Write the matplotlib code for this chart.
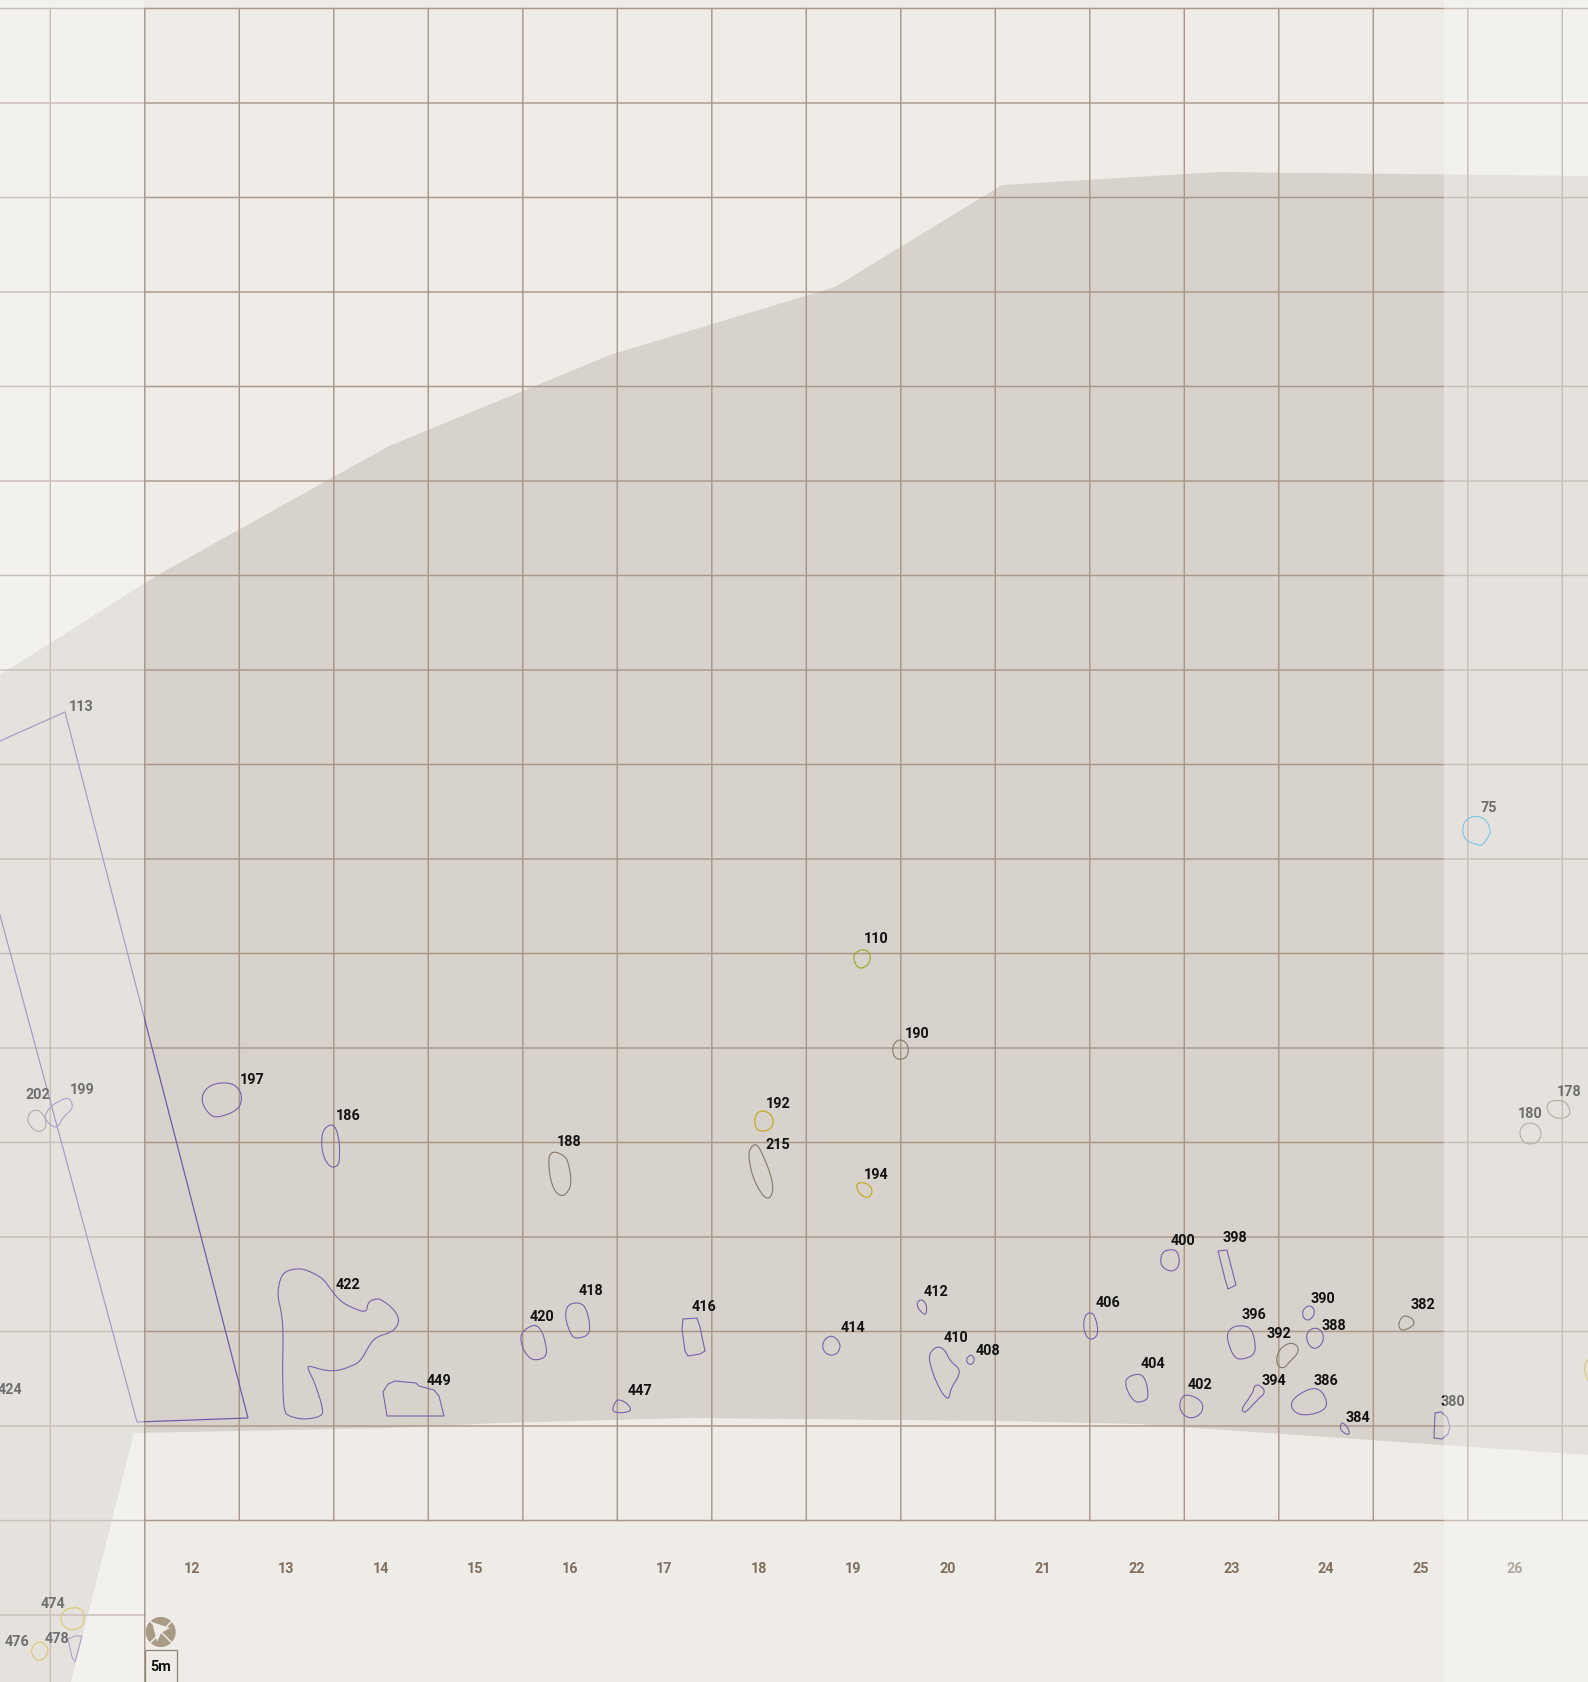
import numpy as np
import matplotlib.pyplot as plt
from matplotlib.patches import Polygon, Rectangle, Circle

plt.rcParams['font.family'] = ['Roboto', 'DejaVu Sans']

# map coordinates are measured in reference pixels
W, H = 1588, 1683

grid_x = [50.3 + 94.5 * k for k in range(17)]
grid_y = [9.5 + 94.5 * k for k in range(17)]
columns = list(range(12, 27))

excavation = [(0, 676), (156, 577), (389, 447), (610, 356), (835, 288), (1002, 186),
              (1219, 173), (1588, 177), (1588, 1456), (1138, 1425), (1000, 1422),
              (687, 1419), (500, 1424), (389, 1429), (134, 1434), (71, 1683), (0, 1683)]

trench_113 = [(0, 916), (137, 1423), (248, 1419), (65, 713), (0, 742)]

purple = {
    197: [(210, 1087), (223, 1084), (234, 1086), (240, 1093), (241, 1100), (239, 1108), (230, 1114), (216, 1118), (210, 1115), (203, 1105), (203, 1095)],
    186: [(330, 1126), (335, 1128), (338, 1138), (339, 1150), (339, 1165), (333, 1168), (328, 1165), (324, 1157), (322, 1145), (323, 1132)],
    422: [(298, 1270), (308, 1272), (323, 1280), (330, 1290), (340, 1303), (353, 1310), (366, 1314), (367, 1305), (372, 1301), (380, 1300), (395, 1312), (399, 1323), (392, 1333), (375, 1338), (368, 1347), (360, 1362), (350, 1367), (338, 1371), (325, 1371), (309, 1366), (308, 1369), (315, 1383), (324, 1412), (320, 1417), (305, 1420), (290, 1417), (284, 1412), (283, 1373), (284, 1333), (282, 1313), (278, 1297), (280, 1282), (285, 1273)],
    449: [(395, 1382), (416, 1384), (419, 1387), (434, 1391), (439, 1397), (444, 1417), (387, 1417), (383, 1393), (388, 1385)],
    199: [(68, 1099), (72, 1105), (71, 1111), (63, 1117), (59, 1126), (55, 1128), (48, 1123), (45, 1117), (50, 1109), (60, 1102)],
    420: [(534, 1326), (540, 1330), (544, 1340), (547, 1357), (535, 1361), (528, 1357), (523, 1348), (521, 1338), (524, 1332)],
    418: [(578, 1304), (585, 1308), (589, 1323), (589, 1335), (578, 1339), (572, 1337), (567, 1323), (566, 1313), (569, 1306)],
    416: [(683, 1320), (697, 1319), (700, 1328), (705, 1352), (700, 1355), (688, 1357), (685, 1352), (682, 1330)],
    447: [(619, 1401), (627, 1405), (631, 1411), (625, 1413), (615, 1413), (613, 1410), (616, 1403)],
    414: [(831, 1337), (837, 1341), (840, 1347), (837, 1354), (831, 1356), (825, 1353), (823, 1347), (825, 1341)],
    412: [(922, 1301), (926, 1306), (926, 1315), (923, 1314), (918, 1308), (918, 1303)],
    410: [(939, 1348), (945, 1352), (950, 1363), (959, 1370), (958, 1377), (951, 1388), (949, 1398), (947, 1399), (941, 1392), (933, 1373), (929, 1358), (933, 1351)],
    408: [(971, 1356), (974, 1360), (972, 1365), (968, 1364), (967, 1360)],
    406: [(1089, 1314), (1094, 1316), (1097, 1328), (1097, 1336), (1092, 1340), (1087, 1338), (1084, 1328), (1085, 1318)],
    400: [(1172, 1251), (1177, 1253), (1179, 1262), (1177, 1269), (1171, 1272), (1163, 1268), (1161, 1262), (1163, 1253)],
    398: [(1218, 1252), (1227, 1251), (1230, 1263), (1236, 1286), (1228, 1290), (1225, 1280)],
    396: [(1240, 1327), (1250, 1329), (1254, 1340), (1255, 1355), (1242, 1360), (1235, 1358), (1231, 1350), (1227, 1336), (1232, 1329)],
    390: [(1308, 1307), (1313, 1309), (1314, 1315), (1309, 1321), (1304, 1319), (1303, 1312)],
    388: [(1315, 1329), (1322, 1333), (1323, 1342), (1317, 1349), (1311, 1348), (1307, 1340), (1308, 1333)],
    404: [(1139, 1375), (1145, 1380), (1148, 1397), (1145, 1401), (1137, 1403), (1132, 1399), (1126, 1387), (1127, 1379)],
    402: [(1187, 1396), (1198, 1400), (1203, 1407), (1200, 1415), (1191, 1419), (1183, 1415), (1180, 1407), (1182, 1399)],
    394: [(1258, 1386), (1264, 1391), (1263, 1396), (1257, 1400), (1248, 1411), (1244, 1413), (1242, 1409), (1253, 1395), (1254, 1388)],
    386: [(1313, 1389), (1322, 1393), (1327, 1405), (1322, 1412), (1305, 1416), (1295, 1413), (1291, 1405), (1297, 1397)],
    384: [(1343, 1424), (1348, 1430), (1349, 1435), (1345, 1434), (1341, 1430), (1341, 1426)],
    380: [(1435, 1414), (1441, 1413), (1447, 1418), (1450, 1428), (1448, 1435), (1442, 1440), (1434, 1439)],
    478: [(68, 1640), (75, 1637), (82, 1637), (75, 1663), (72, 1658)],
}
tan = {
    188: [(555, 1153), (565, 1158), (568, 1165), (571, 1183), (568, 1192), (562, 1197), (555, 1192), (551, 1180), (549, 1163), (550, 1156)],
    215: [(755, 1145), (760, 1150), (768, 1170), (773, 1187), (771, 1197), (767, 1199), (762, 1195), (755, 1182), (750, 1165), (749, 1152)],
    392: [(1291, 1344), (1298, 1348), (1297, 1355), (1290, 1361), (1285, 1368), (1280, 1368), (1277, 1363), (1278, 1355), (1283, 1348)],
    382: [(1405, 1317), (1412, 1320), (1414, 1325), (1408, 1329), (1402, 1331), (1399, 1327), (1401, 1320)],
    202: [(37, 1111), (43, 1116), (46, 1125), (43, 1131), (37, 1132), (32, 1128), (28, 1122), (30, 1114)],
    178: [(1557, 1102), (1565, 1103), (1570, 1112), (1567, 1118), (1557, 1119), (1550, 1115), (1547, 1108), (1550, 1103)],
    180: [(1530, 1124), (1538, 1127), (1541, 1135), (1538, 1142), (1530, 1145), (1523, 1142), (1520, 1134), (1523, 1127)],
    190: [(900, 1041), (906, 1044), (908, 1051), (906, 1058), (900, 1060), (895, 1058), (893, 1051), (895, 1044)],
}
yellow = {
    192: [(762, 1112), (770, 1115), (773, 1122), (771, 1129), (763, 1132), (757, 1130), (755, 1122), (757, 1115)],
    194: [(862, 1184), (868, 1186), (872, 1191), (870, 1197), (865, 1198), (860, 1194), (857, 1188), (858, 1185)],
    474: [(68, 1610), (80, 1609), (84, 1617), (82, 1627), (73, 1631), (65, 1628), (61, 1621), (63, 1614)],
    476: [(40, 1643), (46, 1647), (48, 1653), (43, 1660), (37, 1661), (32, 1655), (33, 1647)],
    0: [(1592, 1360), (1586, 1362), (1585, 1372), (1588, 1382), (1592, 1384)],
}
olive = {
    110: [(862, 951), (868, 953), (870, 958), (868, 965), (862, 969), (857, 967), (854, 959), (856, 954)],
}
cyan = {
    75: [(1475, 817), (1486, 821), (1490, 832), (1488, 837), (1482, 846), (1477, 845), (1466, 841), (1463, 832), (1465, 822)],
}

labels = {
    197: (252, 1080), 186: (348, 1116), 422: (348, 1285), 449: (439, 1381), 202: (38, 1095),
    199: (82, 1090), 424: (10, 1390), 113: (81, 707), 188: (569, 1142), 192: (778, 1104),
    215: (778, 1145), 194: (876, 1175), 418: (591, 1291), 420: (542, 1317), 416: (704, 1307),
    447: (640, 1391), 414: (853, 1328), 412: (936, 1292), 410: (956, 1338), 408: (988, 1351),
    400: (1183, 1241), 398: (1235, 1238), 406: (1108, 1303), 396: (1254, 1315), 390: (1323, 1299),
    388: (1334, 1326), 392: (1279, 1334), 382: (1423, 1305), 404: (1153, 1364), 402: (1200, 1385),
    394: (1274, 1381), 386: (1326, 1381), 384: (1358, 1418), 380: (1453, 1402), 75: (1489, 808),
    178: (1569, 1092), 180: (1530, 1114), 474: (53, 1604), 476: (17, 1642), 478: (57, 1639),
    110: (876, 939), 190: (917, 1034),
}
sharp = [449, 398, 416, 380, 478]


def rounded(pts, n=2):
    # round off the surveyed outline, then push it back out to where it was
    pts = np.array(pts, float)
    for _ in range(n):
        nxt = np.roll(pts, -1, axis=0)
        pts = np.column_stack([0.75 * pts + 0.25 * nxt, 0.25 * pts + 0.75 * nxt]).reshape(-1, 2)
    if n:
        c = pts.mean(axis=0)
        d = pts - c
        pts = pts + 0.7 * d / np.hypot(d[:, 0], d[:, 1])[:, None]
    return pts


fig = plt.figure(figsize=(W / 100, H / 100), dpi=100)
ax = fig.add_axes([0, 0, 1, 1])
ax.set_xlim(0, W)
ax.set_ylim(H, 0)
ax.axis('off')
ax.add_patch(Rectangle((0, 0), W, H, fc='#efece7', ec='none', zorder=0))
ax.add_patch(Polygon(excavation, fc='#d7d2cb', ec='none', zorder=1))

# grid
line = dict(color='#a99887', lw=1.05, zorder=2, snap=False)
for y in grid_y:
    ax.plot([0, W], [y, y], **line)
for x in grid_x:
    ax.plot([x, x], [grid_y[0], grid_y[-1]], **line)
ax.plot([0, grid_x[1]], [1616, 1616], **line)
ax.plot([grid_x[0]] * 2, [grid_y[-1], H], **line)
ax.plot([grid_x[1]] * 2, [grid_y[-1], H], **line)

# features
ax.plot([p[0] for p in trench_113], [p[1] for p in trench_113], color='#6f55a8', lw=0.85,
        zorder=3, solid_joinstyle='miter', snap=False)
for group, col in [(purple, '#7a62ac'), (tan, '#85796a'), (yellow, '#c2a812'), (olive, '#9aa526'), (cyan, '#1fa6d8')]:
    for fid, pts in group.items():
        outline = rounded(pts, 0) if fid in sharp else rounded(pts)
        ax.add_patch(Polygon(outline, closed=True, fill=False, ec=col, lw=0.8, joinstyle='round', zorder=3))

for fid, (x, y) in labels.items():
    ax.text(x, y, str(fid), ha='center', va='center', fontsize=10.4, fontweight='bold',
            color='#111111', zorder=4)

for c, x0, x1 in zip(columns, grid_x[1:], grid_x[2:]):
    ax.text((x0 + x1) / 2, 1569, str(c), ha='center', va='center', fontsize=10.4,
            fontweight='bold', color='#7f7060', zorder=4)

# compass and scale
ax.add_patch(Circle((160.7, 1633), 15, fc='#a89b85', ec='none', zorder=5))
ax.plot([150, 172], [1622, 1644], color='#efece7', lw=1.1, zorder=6)
ax.plot([150, 172], [1644, 1622], color='#efece7', lw=1.1, zorder=6)
ax.add_patch(Polygon([(152, 1623), (170, 1629), (161, 1634), (157, 1643)], fc='#efece7', ec='none', zorder=6))
ax.add_patch(Rectangle((144.5, 1650.5), 32, 33, fc='#efece7', ec='#8f8474', lw=0.9, zorder=5))
ax.text(160.5, 1667, '5m', ha='center', va='center', fontsize=10.4, fontweight='bold', color='#111111', zorder=6)

# sides of the plan are washed out
ax.add_patch(Rectangle((0, 0), 144, H, fc='#fbfbfb', alpha=0.4, ec='none', zorder=8))
ax.add_patch(Rectangle((1444, 0), W - 1444, H, fc='#fbfbfb', alpha=0.4, ec='none', zorder=8))

fig.savefig('out.png', dpi=100)
